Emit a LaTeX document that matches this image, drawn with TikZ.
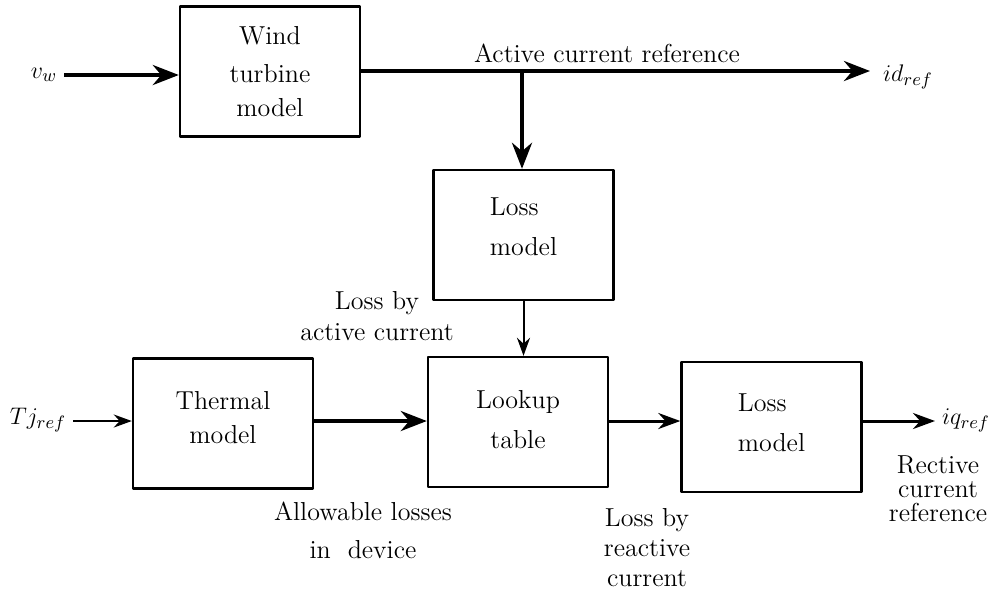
\documentclass[tikz,border=0pt]{standalone}
\usetikzlibrary{arrows.meta}
\tikzset{
	block/.style={draw, line width=1.2pt, minimum width=90pt, minimum height=65pt, inner sep=2pt},
	label/.style={inner sep=1pt, align=center},
	thick arrow/.style={line width=2pt, -{Stealth[length=13pt,width=10pt]}},
	mid arrow/.style={line width=1.5pt, -{Stealth[length=11pt,width=8pt]}},
	thin arrow/.style={line width=1pt, -{Stealth[length=9pt,width=6.5pt]}}
}
\begin{document}
\begin{tikzpicture}[x=0.5pt,y=-0.5pt,font=\fontsize{13}{16}\selectfont, line join=round, >=stealth]
				\useasboundingbox (0,0) rectangle (1000,591);
				% blocks
				\node[block, align=center] (wind) at (270,71.5) {Wind\\[3pt]turbine\\[1pt]model};
				\node[block, align=left] (lossa) at (523.5,235) {Loss\\[4pt]model\\[-8pt]};
				\node[block, align=center] (thermal) at (223,423.5) {Thermal\\[1pt]model\\[-10pt]};
				\node[block, align=center] (lookup) at (518,422) {Lookup\\[4pt]table\\[-13pt]};
				\node[block, align=left] (lossb) at (771.5,427) {Loss\\[4pt]model\\[-12pt]};
				% inputs and outputs
				\node (vw) at (44,75) {$v_w$};
				\node (tj) at (38,420) {$Tj_{ref}$};
				\node (idref) at (908,77) {$id_{ref}$};
				\node (iqref) at (966,420) {$iq_{ref}$};
				\coordinate (idend) at (870,71);
				\coordinate (iqend) at (935,421);
				\coordinate (branch) at (522,71);
				% texts
				\node[label] (actref) at (607,53) {Active current reference};
				\node[label] (lossact) at (377,316) {Loss by\\[-0.5pt]active current};
				\node[label] (allow) at (363,530) {Allowable losses\\[3pt]in\ \ device};
				\node[label] (lossreact) at (647,548) {Loss by\\[-1pt]reactive\\[-1pt]current};
				\node[label] (rect) at (938,489) {Rective\\[-4pt]current\\[-4pt]reference};
				% connectors
				\draw[thick arrow] (vw.east) -- (vw -| wind.west);
				\draw[thick arrow] (wind.east |- idend) -- (idend);
				\draw[thick arrow] (branch) -- (branch |- lossa.north);
				\draw[thin arrow] (lossa.south) -- (lookup.north -| lossa.south);
				\draw[thin arrow] (tj.east |- iqend) -- (thermal.west |- iqend);
				\draw[thick arrow] (thermal.east |- iqend) -- (lookup.west |- iqend);
				\draw[mid arrow] (lookup.east |- iqend) -- (lossb.west |- iqend);
				\draw[mid arrow] (lossb.east |- iqend) -- (iqend);
			\end{tikzpicture}
\end{document}
